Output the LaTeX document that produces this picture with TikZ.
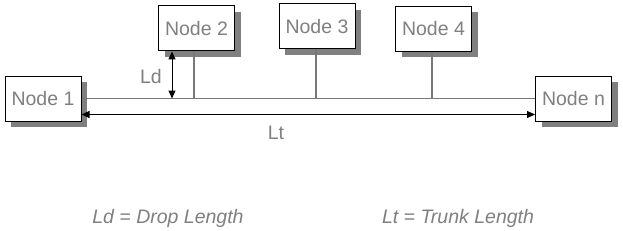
\documentclass[tikz,border=0pt]{standalone}
\usepackage{fontspec}
\setmainfont{Liberation Sans}
\usetikzlibrary{arrows.meta,shadows}
\definecolor{txtgray}{RGB}{128,128,128}
\definecolor{shgray}{RGB}{128,128,128}
\definecolor{linegray}{RGB}{120,120,120}
\begin{document}
\begin{tikzpicture}[x=1pt,y=-1pt,
  nodebox/.style={draw=black, line width=1pt, fill=white, minimum width=76pt, minimum height=45pt,
    inner sep=0pt, text=txtgray, font=\fontsize{19.5}{22}\selectfont,
    drop shadow={shadow xshift=6pt, shadow yshift=-6pt, fill=shgray, opacity=1}},
  wire/.style={draw=linegray, line width=1.6pt},
  dim/.style={draw=black, line width=1pt, {Triangle[length=8pt,width=7pt]}-{Triangle[length=8pt,width=7pt]}},
  lbl/.style={text=txtgray, font=\fontsize{19.5}{22}\selectfont, inner sep=0pt},
  legend/.style={text=txtgray, font=\fontsize{19.5}{22}\selectfont\itshape, inner sep=0pt}]
\useasboundingbox[fill=white] (0,0) rectangle (623,230);
\node[nodebox] (n1) at (43,98.5) {Node 1};
\node[nodebox] (n2) at (196.5,28.5) {Node 2};
\node[nodebox] (n3) at (317,26.5) {Node 3};
\node[nodebox] (n4) at (433.5,29) {Node 4};
\node[nodebox] (nn) at (573.5,98.5) {Node n};
\coordinate (ltline) at (0,114.5);
\coordinate (ldx) at (172,0);
% trunk
\draw[wire] (n1.east) -- (nn.west);
% drops
\draw[wire] ([xshift=-2.5pt]n2.south) -- ([xshift=-2.5pt]n2.south |- n1.east);
\draw[wire] ([xshift=-1pt]n3.south) -- ([xshift=-1pt]n3.south |- n1.east);
\draw[wire] ([xshift=-1.5pt]n4.south) -- ([xshift=-1.5pt]n4.south |- n1.east);
% dimensions
\draw[dim] (ldx |- n2.south) -- (ldx |- n1.east);
\draw[dim] (n1.east |- ltline) -- (nn.west |- ltline);
\node[lbl] (ld) at (151,77) {Ld};
\node[lbl] (lt) at (276,133) {Lt};
\node[legend] (leg1) at (168,218) {Ld = Drop Length};
\node[legend] (leg2) at (458,218) {Lt = Trunk Length};
\end{tikzpicture}
\end{document}
